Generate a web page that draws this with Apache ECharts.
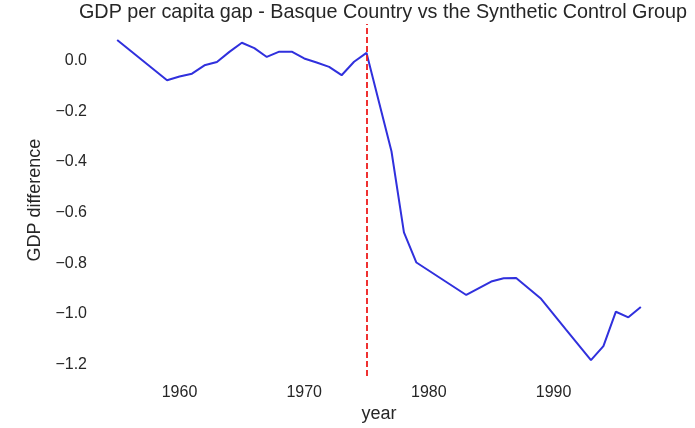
<!DOCTYPE html>
<html>
<head>
<meta charset="utf-8">
<script src="https://cdn.jsdelivr.net/npm/echarts@6/dist/echarts.min.js"></script>
<style>
html,body{margin:0;padding:0;background:#fff;}
#c{width:695px;height:428px;}
</style>
</head>
<body>
<div id="c"></div>
<script>
var years = [1955, 1959, 1960, 1961, 1962, 1963, 1964, 1965, 1966, 1967, 1968, 1969, 1970, 1971, 1972, 1973, 1974, 1975, 1977, 1978, 1979, 1983, 1985, 1986, 1987, 1989, 1991, 1993, 1994, 1995, 1996, 1997];
var gap = [0.081, -0.078, -0.063, -0.052, -0.019, -0.006, 0.034, 0.070, 0.049, 0.014, 0.035, 0.035, 0.008, -0.008, -0.025, -0.058, -0.005, 0.030, -0.358, -0.678, -0.797, -0.925, -0.872, -0.859, -0.858, -0.940, -1.062, -1.182, -1.127, -0.991, -1.013, -0.972];
var treatmentYear = 1975;
var xTicks = [1960, 1970, 1980, 1990];
var yTicks = [0.0, -0.2, -0.4, -0.6, -0.8, -1.0, -1.2];

var points = years.map(function (y, i) { return [y, gap[i]]; });
var textColor = '#262626';
var font = 'Liberation Sans, Arial, sans-serif';

var chart = echarts.init(document.getElementById('c'), null, {renderer: 'canvas'});
chart.setOption({
  backgroundColor: '#ffffff',
  animation: false,
  title: {
    text: 'GDP per capita gap - Basque Country vs the Synthetic Control Group',
    left: 378,
    textAlign: 'center',
    top: -2,
    textStyle: {fontFamily: font, fontSize: 19.8, fontWeight: 'normal', color: textColor}
  },
  grid: {left: 91, right: 28, top: 24, bottom: 46, containLabel: false},
  xAxis: {
    type: 'value',
    min: 1952.9,
    max: 1999.1,
    splitNumber: 5,
    name: 'year',
    nameLocation: 'middle',
    nameGap: 27,
    nameTextStyle: {fontFamily: font, fontSize: 18, color: textColor},
    axisLine: {show: false},
    axisTick: {show: false},
    splitLine: {show: false},
    axisLabel: {
      showMinLabel: false,
      showMaxLabel: false,
      margin: 8,
      fontFamily: font, fontSize: 16, color: textColor,
      formatter: function (v) {
        return xTicks.indexOf(Math.round(v)) >= 0 && Math.abs(v - Math.round(v)) < 1e-6 ? String(Math.round(v)) : '';
      }
    }
  },
  yAxis: {
    type: 'value',
    min: -1.245,
    max: 0.144,
    splitNumber: 7,
    name: 'GDP difference',
    nameLocation: 'middle',
    nameGap: 41,
    nameTextStyle: {fontFamily: font, fontSize: 18, color: textColor},
    axisLine: {show: false},
    axisTick: {show: false},
    splitLine: {show: false},
    axisLabel: {
      showMinLabel: false,
      showMaxLabel: false,
      margin: 4,
      fontFamily: font, fontSize: 16, color: textColor,
      formatter: function (v) {
        var r = Math.round(v * 10) / 10;
        var ok = yTicks.some(function (t) { return Math.abs(t - v) < 1e-6; });
        if (!ok) return '';
        return r.toFixed(1).replace('-', '\u2212');
      }
    }
  },
  series: [{
    type: 'line',
    data: points,
    showSymbol: false,
    symbol: 'none',
    lineStyle: {color: '#3030dd', width: 2},
    itemStyle: {color: '#3030dd'},
    markLine: {
      silent: true,
      symbol: 'none',
      label: {show: false},
      lineStyle: {color: '#ee1c1c', type: [6, 3], width: 1.8},
      data: [{xAxis: treatmentYear}]
    }
  }]
});
</script>
</body>
</html>
